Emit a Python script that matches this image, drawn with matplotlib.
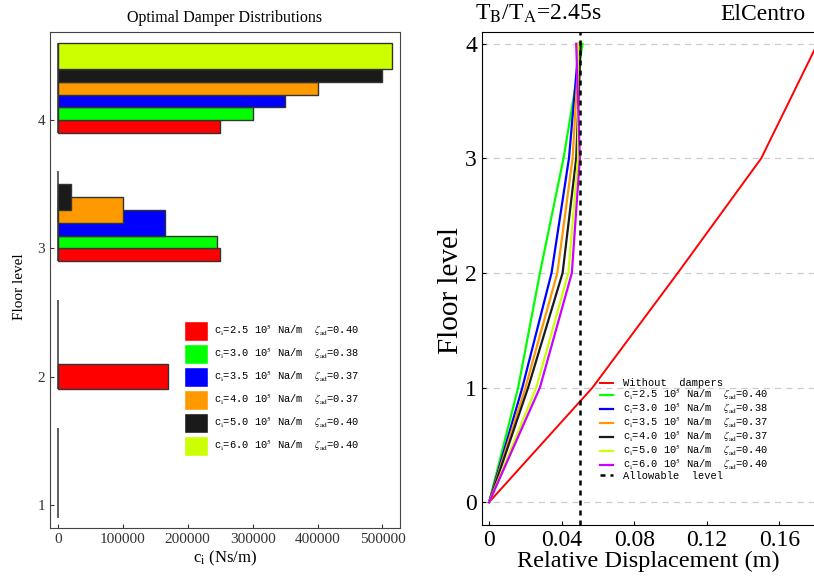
import matplotlib
matplotlib.use("Agg")
import matplotlib.pyplot as plt
from matplotlib.patches import Patch

plt.rcParams['font.family'] = ['Liberation Serif', 'DejaVu Serif']
plt.rcParams['mathtext.fontset'] = 'stix'

# ---- data: optimal damper distributions (left) ----
floors = [1, 2, 3, 4]
c_total = ['2.5', '3.0', '3.5', '4.0', '5.0', '6.0']
zeta_bar = ['0.40', '0.38', '0.37', '0.37', '0.40', '0.40']
bar_colors = ['#ff0000', '#00ff00', '#0000ff', '#ff9900', '#1a1a1a', '#ccff00']
c_red = [0, 170000, 250000, 250000]
c_green = [0, 0, 245000, 300000]
c_blue = [0, 0, 165000, 350000]
c_orange = [0, 0, 100000, 400000]
c_black = [0, 0, 20000, 500000]
c_yellow = [0, 0, 0, 515000]
damper_values = [c_red, c_green, c_blue, c_orange, c_black, c_yellow]

# ---- data: relative displacement profiles (right) ----
levels = [0, 1, 2, 3, 4]
d_none = [0, 0.057, 0.104, 0.150, 0.181]
d_25 = [0, 0.016, 0.028, 0.041, 0.0515]
d_30 = [0, 0.0183, 0.0344, 0.044, 0.0495]
d_35 = [0, 0.020, 0.0376, 0.046, 0.0497]
d_40 = [0, 0.0215, 0.0405, 0.048, 0.0505]
d_50 = [0, 0.026, 0.0437, 0.049, 0.049]
d_60 = [0, 0.028, 0.0456, 0.050, 0.048]
allowable = 0.05
line_c = ['2.5', '3.0', '3.5', '4.0', '5.0', '6.0']
line_zeta = ['0.40', '0.38', '0.37', '0.37', '0.40', '0.40']
line_colors = ['#00ff00', '#0000ff', '#ff9900', '#1a1a1a', '#ccff00', '#cc00ff']
disp_profiles = [d_25, d_30, d_35, d_40, d_50, d_60]

fig = plt.figure(figsize=(8.14, 5.77), dpi=100)

# ================= left panel =================
ax = fig.add_axes([0.0614, 0.085, 0.43, 0.86])
slot = 0.1
for fi, f in enumerate(floors):
    ax.vlines(0, f - slot, f + 6 * slot, color='#444444', lw=1.2, zorder=1)
    for k, vals in enumerate(damper_values):
        v = vals[fi]
        if v == 0:
            continue
        h = slot
        if k == 5 or (f == 3 and k >= 2) or f == 2:
            h = 2 * slot
        ax.barh(f - slot + k * slot, v, height=h, align='edge',
                color=bar_colors[k], edgecolor='#333333', lw=1.0, zorder=2 + k)

ax.set_xlim(-12000, 527000)
ax.set_ylim(0.82, 4.69)
ax.set_yticks(floors)
ax.set_xticks([0, 100000, 200000, 300000, 400000, 500000])
ax.tick_params(direction='in', length=3, labelsize=11, colors='#333333')
for s in ax.spines.values():
    s.set_color('#444444')
ax.set_title('Optimal Damper Distributions', fontsize=11.5, pad=7)
ax.set_xlabel(r'c$_{\rm i}$ (Ns/m)', fontsize=12, labelpad=2)
ax.set_ylabel('Floor level', fontsize=11)
ax.yaxis.set_label_coords(-0.068, 0.486)

handles = [Patch(facecolor=c, edgecolor='white') for c in bar_colors]
labels = [r'c$_{\rm i}$=%s 10$^5$ Na/m  $\zeta_{\rm ad}$=%s' % (c, z)
          for c, z in zip(c_total, zeta_bar)]
ax.legend(handles, labels, loc='upper left', bbox_to_anchor=(0.383, 0.418),
          frameon=False, prop={'family': 'Liberation Mono', 'size': 7.5},
          handlelength=2.3, handleheight=2.58, labelspacing=0.3,
          handletextpad=0.55, borderaxespad=0, borderpad=0)

# ================= right panel =================
ax2 = fig.add_axes([0.592, 0.09, 0.41, 0.854])
for y in levels:
    ax2.axhline(y, color='#cccccc', lw=0.9, ls=(0, (5, 4)), zorder=0)
handles2 = []
labels2 = []
h, = ax2.plot(d_none, levels, color='#ff0000', lw=1.4)
handles2.append(h)
labels2.append('Without  dampers')
for prof, col, c, z in zip(disp_profiles, line_colors, line_c, line_zeta):
    h, = ax2.plot(prof, levels, color=col, lw=1.6)
    handles2.append(h)
    labels2.append(r'c$_{\rm i}$=%s 10$^5$ Na/m  $\zeta_{\rm ad}$=%s' % (c, z))
h = ax2.axvline(allowable, color='black', lw=1.8, ls=(0, (2, 2)))
handles2.append(h)
labels2.append('Allowable  level')

ax2.set_xlim(-0.004, 0.18)
ax2.set_ylim(-0.2, 4.1)
ax2.set_xticks([0, 0.04, 0.08, 0.12, 0.16])
ax2.set_xticklabels(['0', '0.04', '0.08', '0.12', '0.16'])
ax2.set_yticks(levels)
ax2.tick_params(direction='in', length=3, labelsize=17)
ax2.set_xlabel('Relative Displacement (m)', fontsize=17.5, labelpad=0)
ax2.set_ylabel('Floor level', fontsize=21)
ax2.yaxis.set_label_coords(-0.054, 0.477)
ax2.text(-0.022, 1.015, r'T$_{\rm B}$/T$_{\rm A}$=2.45s', transform=ax2.transAxes,
         fontsize=17, ha='left', va='bottom')
ax2.text(0.97, 1.015, 'ElCentro', transform=ax2.transAxes,
         fontsize=17, ha='right', va='bottom')
ax2.legend(handles2, labels2, loc='upper left', bbox_to_anchor=(0.355, 0.298),
           frameon=False, prop={'family': 'Liberation Mono', 'size': 7.5},
           handlelength=1.25, labelspacing=-0.15, handletextpad=0.95,
           borderaxespad=0, borderpad=0)

fig.savefig('out.png', dpi=100)
